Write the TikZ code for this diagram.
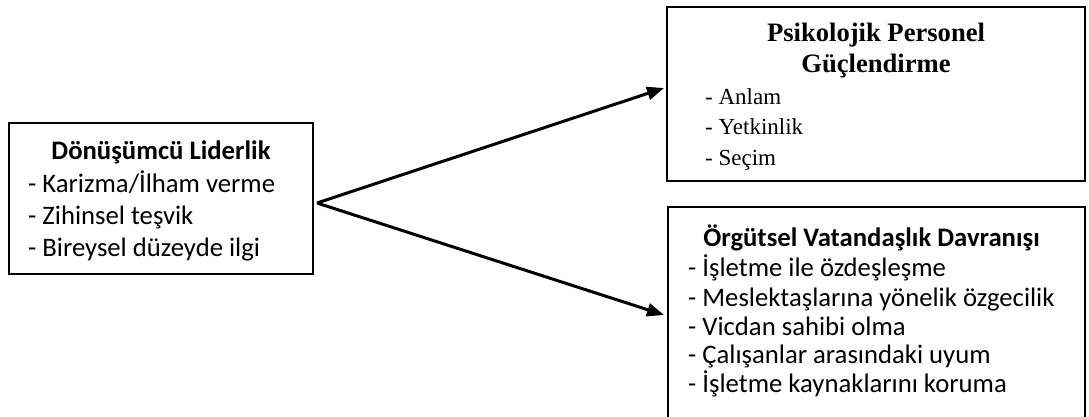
\documentclass[tikz,border=0pt]{standalone}
\usepackage{fontspec}
\setmainfont{Liberation Serif}
\newfontfamily\calfont{Carlito}
\usetikzlibrary{arrows.meta}
\tikzset{
  box/.style={draw=black, line width=2pt, fill=white, inner sep=0pt},
  caltitle/.style={font={\calfont\bfseries\fontsize{26.7}{32}\selectfont}, inner sep=0pt, anchor=base},
  calitem/.style={font={\calfont\fontsize{26.7}{32}\selectfont}, inner sep=0pt, anchor=base west},
  tmtitle/.style={font={\rmfamily\bfseries\fontsize{26.6}{31}\selectfont}, inner sep=0pt, anchor=base},
  tmitem/.style={font={\rmfamily\mdseries\fontsize{23}{30}\selectfont}, inner sep=0pt, anchor=base west},
  conn/.style={line width=3pt, -{Triangle[length=17pt,width=13pt]}}
}
\begin{document}
\begin{tikzpicture}[x=1pt,y=-1pt]
\clip (0,0) rectangle (1089,417);
\fill[white] (0,0) rectangle (1089,417);
% boxes
\node[box, minimum width=304pt, minimum height=151pt] (L) at (161,198.5) {};
\node[box, minimum width=418pt, minimum height=174pt] (P) at (876,94) {};
\node[box, minimum width=417pt, minimum height=240pt] (O) at (876.5,327) {};
% left box text
\node[caltitle] (Lt) at (161,160) {Dönüşümcü Liderlik};
\node[calitem] (L1) at (28,192.7) {- Karizma/İlham verme};
\node[calitem] (L2) at (28,224.7) {- Zihinsel teşvik};
\node[calitem] (L3) at (28,256.7) {- Bireysel düzeyde ilgi};
% top right box text
\node[tmtitle] (Pt1) at (876,41.7) {Psikolojik Personel};
\node[tmtitle] (Pt2) at (876,72.7) {Güçlendirme};
\node[tmitem] (P1) at (705,105) {- Anlam};
\node[tmitem] (P2) at (705,135) {- Yetkinlik};
\node[tmitem] (P3) at (705,165) {- Seçim};
% bottom right box text
\node[caltitle] (Ot) at (871.5,246.7) {Örgütsel Vatandaşlık Davranışı};
\node[calitem] (O1) at (688,276.7) {- İşletme ile özdeşleşme};
\node[calitem] (O2) at (688,306) {- Meslektaşlarına yönelik özgecilik};
\node[calitem] (O3) at (688,335) {- Vicdan sahibi olma};
\node[calitem] (O4) at (688,363.5) {- Çalışanlar arasındaki uyum};
\node[calitem] (O5) at (688,392.7) {- İşletme kaynaklarını koruma};
% connectors
\coordinate (src) at (317,203);
\coordinate (tipP) at (664,88);
\coordinate (tipO) at (664,315);
\draw[conn] (src) -- (tipP);
\draw[conn] (src) -- (tipO);
\end{tikzpicture}
\end{document}
